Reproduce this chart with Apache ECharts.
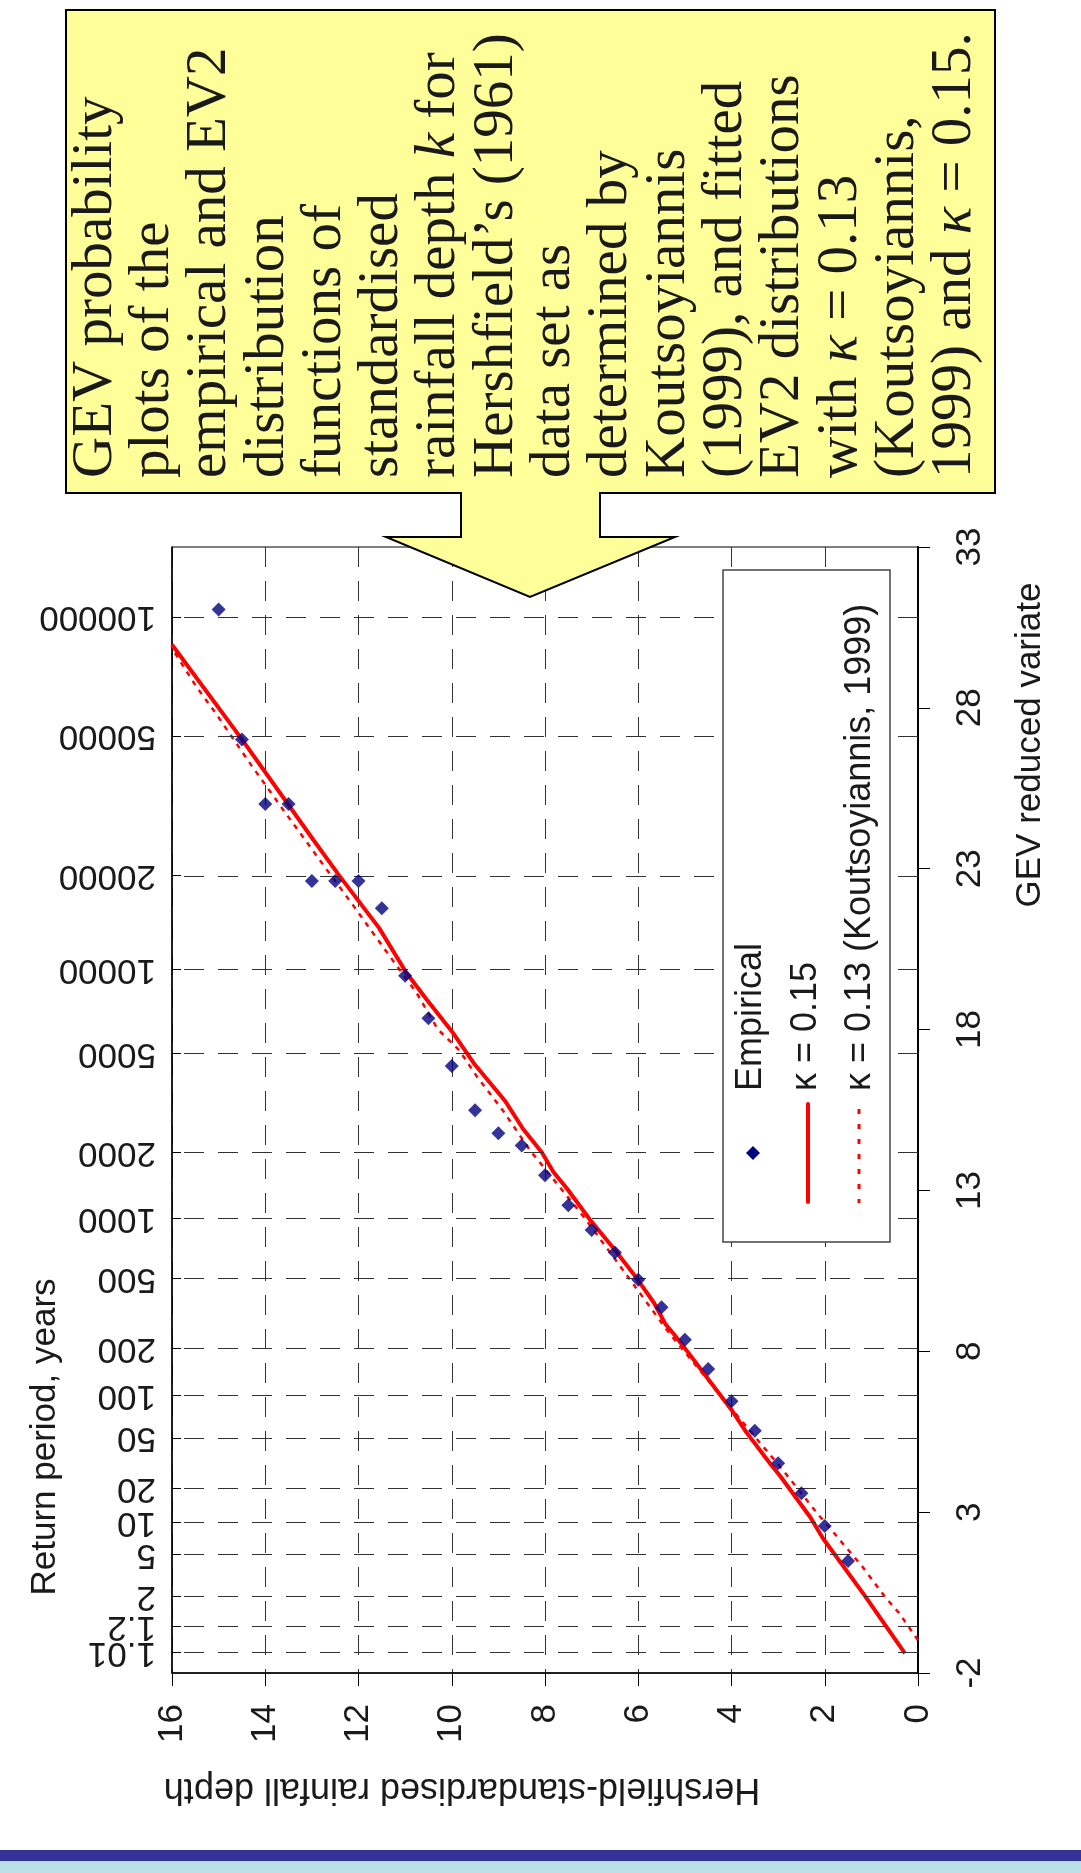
<!DOCTYPE html>
<html>
<head>
<meta charset="utf-8">
<script src="https://cdn.jsdelivr.net/npm/echarts@6/dist/echarts.min.js"></script>
<style>
html,body{margin:0;padding:0;background:#ffffff;}
#chart{width:1081px;height:1873px;}
</style>
</head>
<body>
<div id="chart"></div>
<script>
// ---------------- data ----------------
// Empirical points: Hershfield-standardised rainfall depth vs GEV reduced variate
const empiricalDepth = [1.5, 2, 2.5, 3, 3.5, 4, 4.5, 5, 5.5, 6, 6.5, 7, 7.5, 8, 8.5, 9, 9.5, 10, 10.5, 11, 11.5, 12, 12.5, 13, 13.5, 14, 14.5, 15];
const empiricalVariate = [1.48, 2.57, 3.59, 4.52, 5.53, 6.45, 7.45, 8.36, 9.37, 10.22, 11.07, 11.77, 12.54, 13.47, 14.40, 14.78, 15.49, 16.87, 18.35, 19.67, 21.77, 22.62, 22.62, 22.62, 25.01, 25.01, 27.02, 31.06];

// Fitted EV2, kappa = 0.15 (solid)
const fit015Depth   = [0.28, 1.15, 2.04, 2.31, 2.96, 3.14, 3.68, 4.01, 4.55, 4.87, 5.23, 5.41, 5.66, 6.09, 6.53, 7.03, 7.53, 7.82, 8.07, 8.47, 8.86, 9.51, 10.0, 10.53, 10.97, 11.56, 12.42, 12.97, 14.52, 16.0];
const fit015Variate = [-1.39, 0.42, 2.19, 2.84, 4.13, 4.45, 5.48, 6.2, 7.23, 7.85, 8.52, 8.83, 9.5, 10.38, 11.2, 12.08, 13.06, 13.57, 14.19, 14.91, 15.79, 16.92, 17.95, 18.92, 19.76, 21.16, 22.8, 23.9, 27.06, 29.96];

// Fitted EV2, kappa = 0.13 (Koutsoyiannis, 1999) (dotted)
const fit013Depth   = [0, 0.41, 0.71, 1.19, 2.21, 2.86, 3.72, 5.34, 6.38, 7.17, 8.0, 8.32, 8.9, 9.47, 9.83, 10.3, 10.75, 11.27, 12.15, 12.78, 13.56, 14.3, 15.11, 15.48, 16.0];
const fit013Variate = [-0.98, -0.13, 0.37, 1.30, 3.05, 4.24, 5.73, 8.57, 10.63, 12.18, 13.67, 14.24, 15.48, 16.56, 17.34, 18.01, 19.13, 20.16, 21.93, 23.17, 24.72, 26.22, 27.93, 28.66, 29.85];

// Return-period axis (years) and its labels
const returnPeriods = [1.01, 1.2, 2, 5, 10, 20, 50, 100, 200, 500, 1000, 2000, 5000, 10000, 20000, 50000, 100000];
const returnPeriodLabels = ['1.01', '1.2', '2', '5', '10', '20', '50', '100', '200', '500', '1000', '2000', '5000', '10000', '20000', '50000', '100000'];

// Text
const legendNames = ['Empirical', 'κ = 0.15', 'κ = 0.13 (Koutsoyiannis, 1999)'];
const depthAxisTitle = 'Hershfield-standardised rainfall depth';
const variateAxisTitle = 'GEV reduced variate';
const returnAxisTitle = 'Return period, years';
const calloutLines = [
  'GEV probability',
  'plots of the',
  'empirical and EV2',
  'distribution',
  'functions of',
  'standardised',
  'rainfall depth {i|k} for',
  'Hershfield\u2019s (1961)',
  'data set as',
  'determined by',
  'Koutsoyiannis',
  '(1999), and fitted',
  'EV2 distributions',
  'with {i|\u03BA} = 0.13',
  '(Koutsoyiannis,',
  '1999) and {i|\u03BA} = 0.15.'
];

// Axis scale: GEV reduced variate of a return period (shape 0.15)
const AXIS_KAPPA = 0.15;
function gevReducedVariate(T) {
  return (Math.pow(-Math.log(1 - 1 / T), -AXIS_KAPPA) - 1) / AXIS_KAPPA;
}
const returnPeriodPos = returnPeriods.map(gevReducedVariate);
// the 1.2-year label sits very close to the 1.01 one: it is put on its own (line-less) axis
// so that the library's min-label overlap rule does not drop it
const crowdedIdx = 1;
const mainLabelPos = returnPeriodPos.filter((v, i) => i !== crowdedIdx);
const crowdedLabelPos = [returnPeriodPos[crowdedIdx]];

function returnLabel(v) {
  for (let i = 0; i < returnPeriodPos.length; i++) {
    if (Math.abs(returnPeriodPos[i] - v) < 1e-6) return returnPeriodLabels[i];
  }
  return '';
}
function pairs(xs, ys) { return xs.map((x, i) => [x, ys[i]]); }

// ---------------- chart ----------------
const SANS = 'Liberation Sans, Arial, Helvetica, sans-serif';
const SERIF = 'Liberation Serif, Times New Roman, serif';
const chart = echarts.init(document.getElementById('chart'));

const returnLabelStyle = {
  rotate: 180, margin: 16, fontSize: 35, fontFamily: SANS, color: '#1a1a1a',
  hideOverlap: false, showMinLabel: true, showMaxLabel: true, formatter: returnLabel
};

const option = {
  animation: false,
  backgroundColor: '#ffffff',
  grid: {
    left: 172, right: 163, top: 547, bottom: 200,
    show: true, borderColor: '#000', borderWidth: 1, backgroundColor: 'transparent'
  },
  xAxis: {
    type: 'value', min: 0, max: 16, interval: 2, inverse: true, position: 'bottom',
    axisLine: { show: true, onZero: false, lineStyle: { color: '#000', width: 1.5 } },
    axisTick: { show: true, inside: false, length: 13, lineStyle: { color: '#000', width: 1 } },
    axisLabel: { rotate: 90, margin: 31, fontSize: 35, fontFamily: SANS, color: '#1a1a1a', hideOverlap: false },
    splitLine: { show: true, lineStyle: { type: [20, 14], color: '#333', width: 1 } }
  },
  yAxis: [
    {
      type: 'value', min: -2, max: 33, interval: 5, position: 'right',
      axisLine: { show: true, onZero: false, lineStyle: { color: '#000', width: 2 } },
      axisTick: { show: true, inside: false, length: 12, lineStyle: { color: '#000', width: 1 } },
      axisLabel: { rotate: 90, margin: 35, fontSize: 35, fontFamily: SANS, color: '#1a1a1a', hideOverlap: false },
      splitLine: { show: false }
    },
    {
      type: 'value', min: -2, max: 33, position: 'left',
      axisLine: { show: true, onZero: false, lineStyle: { color: '#000', width: 1.5 } },
      axisTick: { show: true, inside: true, length: 9, customValues: returnPeriodPos, lineStyle: { color: '#000', width: 1 } },
      axisLabel: Object.assign({}, returnLabelStyle, { customValues: mainLabelPos }),
      splitLine: { show: false }
    },
    {
      type: 'value', min: -2, max: 33, position: 'left',
      axisLine: { show: false, onZero: false },
      axisTick: { show: false },
      axisLabel: Object.assign({}, returnLabelStyle, { customValues: crowdedLabelPos }),
      splitLine: { show: false }
    }
  ],
  series: [
    {
      name: 'grid-return-periods', type: 'line', data: [], z: 1, silent: true,
      markLine: {
        silent: true, symbol: 'none', animation: false,
        label: { show: false },
        lineStyle: { type: [20, 14], color: '#333', width: 1 },
        data: returnPeriodPos.map(v => ({ yAxis: v }))
      }
    },
    {
      name: legendNames[2], type: 'line', data: pairs(fit013Depth, fit013Variate),
      showSymbol: false, symbol: 'none', clip: true, z: 3,
      lineStyle: { color: '#ff0000', width: 2.5, type: [5, 6] }
    },
    {
      name: legendNames[1], type: 'line', data: pairs(fit015Depth, fit015Variate),
      showSymbol: false, symbol: 'none', clip: true, z: 4,
      lineStyle: { color: '#ff0000', width: 4 }
    },
    {
      name: legendNames[0], type: 'scatter', data: pairs(empiricalDepth, empiricalVariate),
      symbol: 'diamond', symbolSize: 14, z: 5,
      itemStyle: { color: '#000080' }
    }
  ],
  graphic: {
    elements: [
      // bottom slide bars
      { type: 'rect', z: 100, shape: { x: 0, y: 1850, width: 1081, height: 11 }, style: { fill: '#333399' } },
      { type: 'rect', z: 100, shape: { x: 0, y: 1861, width: 1081, height: 12 }, style: { fill: '#B9E1E5' } },
      // axis titles
      { type: 'text', z: 100, x: 45, y: 1437, rotation: Math.PI / 2,
        style: { text: returnAxisTitle, fontSize: 35, fontFamily: SANS, fill: '#1a1a1a', align: 'center', verticalAlign: 'middle' } },
      { type: 'text', z: 100, x: 1030, y: 745, rotation: Math.PI / 2,
        style: { text: variateAxisTitle, fontSize: 35, fontFamily: SANS, fill: '#1a1a1a', align: 'center', verticalAlign: 'middle' } },
      { type: 'text', z: 100, x: 462, y: 1789, rotation: Math.PI,
        style: { text: depthAxisTitle, fontSize: 36, fontFamily: SANS, fill: '#1a1a1a', align: 'center', verticalAlign: 'middle' } },
      // legend
      { type: 'rect', z: 100, shape: { x: 723, y: 570, width: 167, height: 672 }, style: { fill: '#fff', stroke: '#444', lineWidth: 1.5 } },
      { type: 'polygon', z: 101, shape: { points: [[753, 1146], [760, 1153], [753, 1160], [746, 1153]] }, style: { fill: '#000080' } },
      { type: 'text', z: 101, x: 751, y: 1091, rotation: Math.PI / 2,
        style: { text: legendNames[0], fontSize: 36, fontFamily: SANS, fill: '#1a1a1a', align: 'left', verticalAlign: 'middle' } },
      { type: 'line', z: 101, shape: { x1: 808, y1: 1104, x2: 808, y2: 1202 }, style: { stroke: '#ff0000', lineWidth: 4, lineCap: 'round' } },
      { type: 'text', z: 101, x: 806, y: 1091, rotation: Math.PI / 2,
        style: { text: legendNames[1], fontSize: 36, fontFamily: SANS, fill: '#1a1a1a', align: 'left', verticalAlign: 'middle' } },
      { type: 'line', z: 101, shape: { x1: 859, y1: 1109, x2: 859, y2: 1203 }, style: { stroke: '#ff0000', lineWidth: 3, lineDash: [5, 10] } },
      { type: 'text', z: 101, x: 860, y: 1091, rotation: Math.PI / 2,
        style: { text: legendNames[2], fontSize: 36, fontFamily: SANS, fill: '#1a1a1a', align: 'left', verticalAlign: 'middle' } },
      // callout
      { type: 'polygon', z: 110,
        shape: { points: [[66, 10], [995, 10], [995, 493], [600, 493], [600, 537], [675, 537], [530, 597], [386, 537], [461, 537], [461, 493], [66, 493]] },
        style: { fill: '#FFFF99', stroke: '#000', lineWidth: 2 } },
      { type: 'text', z: 111, x: 67, y: 478, rotation: Math.PI / 2,
        style: {
          text: calloutLines.join('\n'), fontSize: 57, fontFamily: SERIF, fill: '#1a1a1a',
          lineHeight: 57.3, align: 'left', verticalAlign: 'top',
          rich: { i: { fontSize: 57, fontFamily: SERIF, fontStyle: 'italic', fill: '#1a1a1a', lineHeight: 57.3 } }
        } }
    ]
  }
};
chart.setOption(option);
</script>
</body>
</html>
